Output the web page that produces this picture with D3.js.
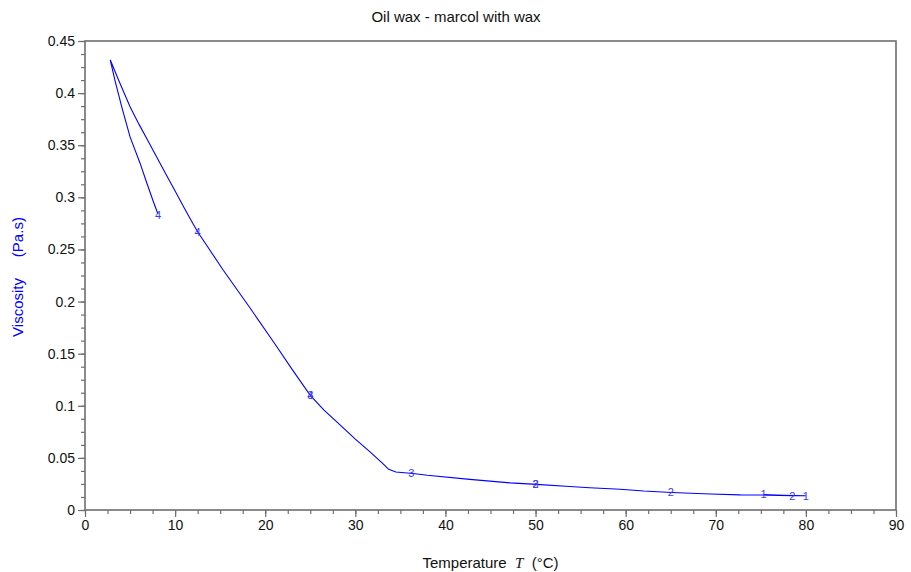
<!DOCTYPE html>
<html><head><meta charset="utf-8">
<script src="https://cdn.jsdelivr.net/npm/d3@7"></script>
<style>
body{margin:0;background:#fff;}
svg{display:block;font-family:"Liberation Sans",Arial,sans-serif;}
</style></head>
<body>
<svg id="chart" width="911" height="572"></svg>
<script>
// Data (temperature °C, viscosity Pa.s), in time order
const temperature = [75.3,77.5,80.0,
  78.5,75.7,72.7,69.4,65.1,62.0,59.4,56.0,53.8,50.1,
  47.2,42.7,38.0,36.4,34.5,33.7,33.0,31.6,30.0,28.3,26.5,25.0,
  23.1,21.1,18.3,15.35,13.5,12.6,12.0,11.0,10.0,9.0,8.0,7.0,6.0,5.0,3.7,2.8,
  3.33,4.1,5.0,6.1,6.85,7.58,8.1];
const viscosity = [0.0148,0.0142,0.0137,
  0.0137,0.0143,0.0145,0.0154,0.0168,0.0182,0.0199,0.0213,0.0226,0.0246,
  0.0260,0.0294,0.0333,0.0350,0.0365,0.0390,0.0450,0.0560,0.0680,0.0816,0.0960,0.1100,
  0.1335,0.159,0.194,0.230,0.254,0.2655,0.2745,0.290,0.306,0.322,0.338,0.354,0.370,0.387,0.413,0.432,
  0.412,0.386,0.358,0.333,0.314,0.296,0.284];
const markerText = ["1","1","2","2","2","3","3","3","4","4","4"];
const markerT = [75.3,80.0,78.5,65.0,50.0,50.0,36.2,25.0,25.0,12.5,8.1];
const markerV = [0.0150,0.0136,0.0137,0.0168,0.0245,0.0245,0.0350,0.110,0.110,0.2665,0.283];
const xTicks = [0,10,20,30,40,50,60,70,80,90];
const yTicks = [0,0.05,0.1,0.15,0.2,0.25,0.3,0.35,0.4,0.45];

const svg = d3.select("#chart");
const L=85, R=896, T=41, B=510;
const x = d3.scaleLinear().domain([0,90]).range([L,R]);
const y = d3.scaleLinear().domain([0,0.45]).range([B,T]);
const axisCol = "#6e6e6e";

// minor ticks
const xMinor = d3.range(0,90.01,2.5);
const yMinor = d3.range(0,0.4501,0.0125);

const gx = svg.append("g").attr("transform",`translate(0,${B})`)
  .call(d3.axisBottom(x).tickValues(xMinor).tickSize(4).tickFormat(""));
const gx2 = svg.append("g").attr("transform",`translate(0,${B})`)
  .call(d3.axisBottom(x).tickValues(xTicks).tickSize(7).tickPadding(3).tickFormat(d3.format("d")));
const gy = svg.append("g").attr("transform",`translate(${L},0)`)
  .call(d3.axisLeft(y).tickValues(yMinor).tickSize(4).tickFormat(""));
const gy2 = svg.append("g").attr("transform",`translate(${L},0)`)
  .call(d3.axisLeft(y).tickValues(yTicks).tickSize(7).tickPadding(3).tickFormat(d=>d===0?"0":String(+d.toFixed(2))));
[gx,gx2,gy,gy2].forEach(g=>{
  g.select(".domain").remove();
  g.selectAll("line").attr("stroke",axisCol).attr("stroke-width",1.2);
  g.selectAll("text").attr("fill","#111").style("font-size","14px").style("font-family","'Liberation Sans',Arial,sans-serif");
});
// frame
svg.append("rect").attr("x",L).attr("y",T).attr("width",R-L).attr("height",B-T)
  .attr("fill","none").attr("stroke",axisCol).attr("stroke-width",1.6);

// curve
const pts = temperature.map((t,i)=>[t,viscosity[i]]);
svg.append("path").datum(pts)
  .attr("d", d3.line().x(d=>x(d[0])).y(d=>y(d[1])))
  .attr("fill","none").attr("stroke","#0000ff").attr("stroke-width",1.1);

// markers
svg.append("g").selectAll("text").data(markerText).join("text")
  .attr("x",(d,i)=>x(markerT[i])).attr("y",(d,i)=>y(markerV[i]))
  .attr("dy","0.35em").attr("text-anchor","middle")
  .attr("fill","#3a3aff").style("font-size","11px").text(d=>d);

// title
svg.append("text").attr("x",456).attr("y",22).attr("text-anchor","middle")
  .style("font-size","15px").attr("fill","#111").text("Oil wax - marcol with wax");

// x label
const xl = svg.append("text").attr("x",(L+R)/2).attr("y",568).attr("text-anchor","middle")
  .style("font-size","15px").attr("fill","#111").attr("xml:space","preserve");
xl.append("tspan").text("Temperature  ");
xl.append("tspan").style("font-family","'Liberation Serif','DejaVu Serif',serif").style("font-style","italic").text("T");
xl.append("tspan").text("  (°C)");

// y label
svg.append("text").attr("transform","translate(23,277) rotate(-90)").attr("text-anchor","middle")
  .attr("xml:space","preserve").style("font-size","15px").attr("fill","#0000ff")
  .text("Viscosity     (Pa.s)");
</script>
</body></html>
